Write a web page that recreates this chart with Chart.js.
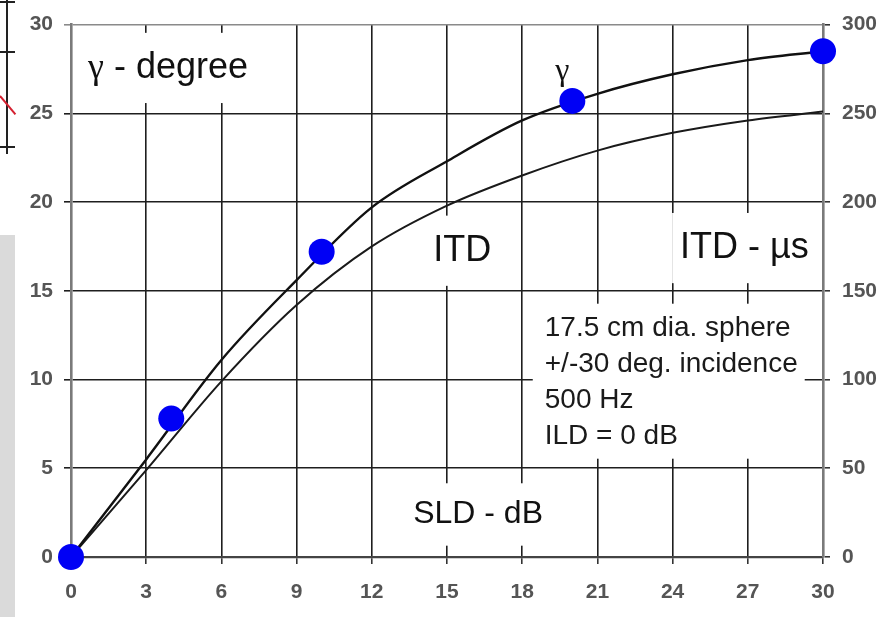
<!DOCTYPE html>
<html>
<head>
<meta charset="utf-8">
<script src="https://cdn.jsdelivr.net/npm/chart.js@4.4.1/dist/chart.umd.min.js"></script>
<style>
  html, body { margin: 0; padding: 0; background: #fff; }
  #wrap { position: relative; width: 883px; height: 617px; overflow: hidden; }
  #plot { position: absolute; left: 0; top: 0; }
  /* bit of the neighbouring figure cut off at the left edge */
  .edge-strip { position: absolute; left: 0; top: 235px; width: 15px; height: 382px; background: #dadada; }
  .edge-axis { position: absolute; left: 6px; top: 0; width: 2px; height: 154px; background: #222; }
  .edge-tick { position: absolute; left: 0; width: 15px; height: 2px; background: #222; }
  .edge-red { position: absolute; left: 0; top: 95px; width: 24px; height: 2px; background: #d42030;
              transform-origin: 0 50%; transform: rotate(50deg); }
</style>
</head>
<body>
<div id="wrap">
  <div class="edge-axis"></div>
  <div class="edge-tick" style="top:1px"></div>
  <div class="edge-tick" style="top:51px"></div>
  <div class="edge-tick" style="top:146px"></div>
  <div class="edge-red"></div>
  <div class="edge-strip"></div>
  <canvas id="plot" width="883" height="617"></canvas>
</div>
<script>
// SLD in dB along the bottom
const sldSteps = [0, 3, 6, 9, 12, 15, 18, 21, 24, 27, 30];
// gamma (degrees, left axis) and ITD (microseconds, right axis) at each step
const gammaDeg = [0, 5.5, 11.1, 15.6, 19.7, 22.3, 24.6, 26.1, 27.2, 28.0, 28.5];
const itdMicro = [0, 49, 99, 142, 175, 198, 215, 229, 239, 246, 251];
// measured gamma points
const markSld = [0, 4, 10, 20, 30];
const markGamma = [0, 7.8, 17.2, 25.7, 28.5];

const infoLines = ['17.5 cm dia. sphere', '+/-30 deg. incidence', '500 Hz', 'ILD = 0 dB'];

const SANS = "'Liberation Sans', Arial, sans-serif";
const SERIF = "'Liberation Serif', 'Times New Roman', serif";

// captions placed in data units; each sits on a white patch that hides the grid
const captions = [
  { runs: [['\u03b3', SERIF], [' - degree', SANS]], x: 0.68, y: 27.0, size: 36 },
  { runs: [['\u03b3', SERIF]], x: 19.6, y: 26.9, size: 32, center: true, bare: true },
  { runs: [['ITD', SANS]], x: 14.45, y: 16.7, size: 36 },
  { runs: [['ITD - \u00b5s', SANS]], x: 24.3, y: 16.85, size: 36 },
  { runs: [['SLD - dB', SANS]], x: 13.65, y: 1.9, size: 32 }
];

const toXY = (xs, ys) => xs.map((x, i) => ({ x: x, y: ys[i] }));

const captionPlugin = {
  id: 'captions',
  beforeDatasetsDraw(chart) {
    const ctx = chart.ctx;
    const sx = chart.scales.x, sy = chart.scales.y;
    ctx.save();
    ctx.textBaseline = 'alphabetic';
    ctx.textAlign = 'left';

    captions.forEach(c => {
      let w = 0;
      const widths = c.runs.map(([t, fam]) => {
        ctx.font = c.size + 'px ' + fam;
        const m = ctx.measureText(t).width;
        w += m;
        return m;
      });
      let px = sx.getPixelForValue(c.x);
      const py = sy.getPixelForValue(c.y);
      if (c.center) px -= w / 2;
      if (!c.bare) {
        ctx.fillStyle = '#fff';
        ctx.fillRect(px - 8, py - c.size * 1.25, w + 16, c.size * 1.95);
      }
      ctx.fillStyle = '#111';
      c.runs.forEach(([t, fam], i) => {
        ctx.font = c.size + 'px ' + fam;
        ctx.fillText(t, px, py);
        px += widths[i];
      });
    });

    // description block at the lower right
    const size = 28, step = 36;
    const bx = sx.getPixelForValue(18.9);
    const by = sy.getPixelForValue(12.47);
    ctx.font = size + 'px ' + SANS;
    const bw = Math.max(...infoLines.map(t => ctx.measureText(t).width));
    ctx.fillStyle = '#fff';
    ctx.fillRect(bx - 12, by - 32, bw + 19, step * (infoLines.length - 1) + 47);
    ctx.fillStyle = '#1a1a1a';
    infoLines.forEach((t, i) => ctx.fillText(t, bx, by + i * step));
    ctx.restore();
  }
};

const gridTone = edge => ctx => (ctx.tick && edge.includes(ctx.tick.value)) ? '#8a8a8a' : '#1e1e1e';
const tickFont = { family: SANS, size: 21, weight: 'bold' };

new Chart(document.getElementById('plot'), {
  type: 'scatter',
  data: {
    datasets: [
      {
        label: 'gamma points',
        data: toXY(markSld, markGamma),
        yAxisID: 'y',
        pointRadius: 13,
        pointBackgroundColor: '#0000f5',
        pointBorderWidth: 0,
        clip: false,
        order: 0
      },
      {
        label: 'gamma',
        data: toXY(sldSteps, gammaDeg),
        yAxisID: 'y',
        showLine: true,
        borderColor: '#111',
        borderWidth: 2.4,
        pointRadius: 0,
        cubicInterpolationMode: 'monotone',
        order: 1
      },
      {
        label: 'ITD',
        data: toXY(sldSteps, itdMicro),
        yAxisID: 'y2',
        showLine: true,
        borderColor: '#1a1a1a',
        borderWidth: 2,
        pointRadius: 0,
        cubicInterpolationMode: 'monotone',
        order: 2
      }
    ]
  },
  options: {
    responsive: false,
    animation: false,
    devicePixelRatio: 1,
    layout: { padding: { top: 23, left: 0, right: 0, bottom: 0 } },
    plugins: { legend: { display: false }, tooltip: { enabled: false } },
    scales: {
      x: {
        type: 'linear', min: 0, max: 30,
        ticks: { stepSize: 3, color: '#555', font: tickFont, padding: 16 },
        grid: { color: gridTone([0, 30]), lineWidth: 1.6, tickLength: 7, tickColor: '#333' },
        border: { color: '#444', width: 2.2 },
        afterFit(s) { s.height = 60; }
      },
      y: {
        position: 'left', min: 0, max: 30,
        ticks: { stepSize: 5, color: '#555', font: tickFont, padding: 11 },
        grid: { color: gridTone([30]), lineWidth: 1.6, tickLength: 7, tickColor: gridTone([30]) },
        border: { color: '#7a7a7a', width: 2.6 },
        afterFit(s) { s.width = 71; }
      },
      y2: {
        position: 'right', min: 0, max: 300,
        ticks: { stepSize: 50, color: '#555', font: tickFont, padding: 12 },
        grid: { drawOnChartArea: false, tickLength: 7, tickColor: '#333', lineWidth: 1.6 },
        border: { color: '#7a7a7a', width: 2.6 },
        afterFit(s) { s.width = 60; }
      }
    }
  },
  plugins: [captionPlugin]
});
</script>
</body>
</html>
